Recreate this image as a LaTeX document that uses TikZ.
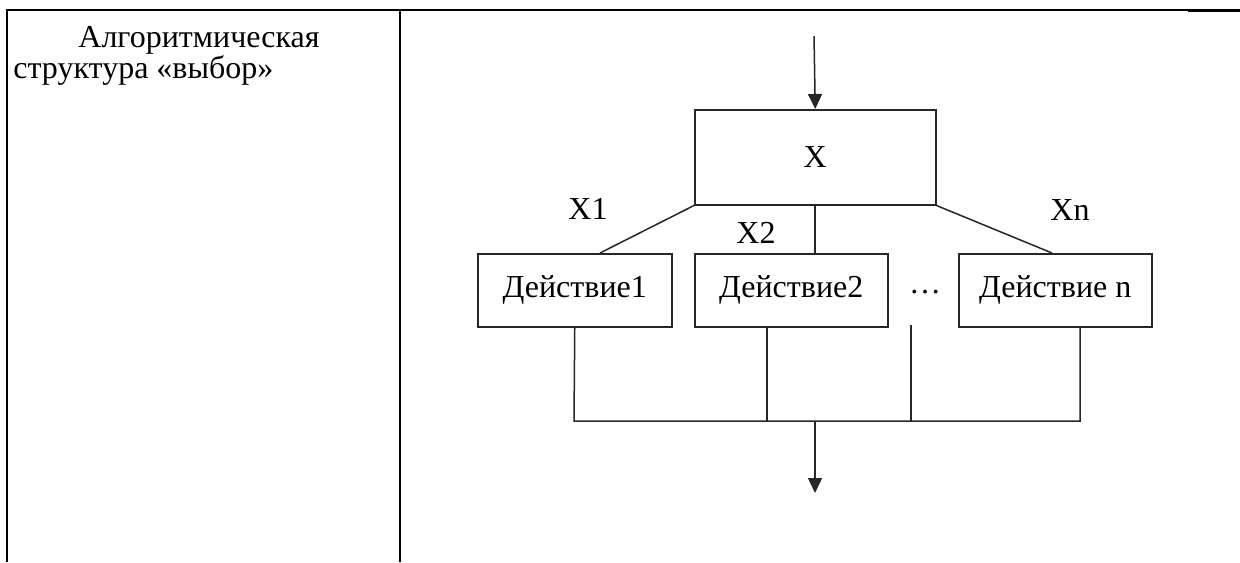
\documentclass[tikz,border=0pt]{standalone}
\usepackage{fontspec}
\setmainfont{Liberation Serif}
\usetikzlibrary{arrows.meta}
\begin{document}
\begin{tikzpicture}[x=0.5pt,y=-0.5pt,
  tablerule/.style={line width=1pt},
  flowline/.style={line width=0.75pt, draw=black!85},
  flowbox/.style={flowline, draw, minimum width=#1, minimum height=36.5pt, inner sep=0pt, anchor=north west},
  lbl/.style={font=\fontsize{16}{19}\selectfont, inner sep=0pt},
  flowarrow/.style={flowline, -{Triangle[length=7.5pt,width=7pt]}}]
\useasboundingbox (0,0) rectangle (1240,562);
% table
\draw[tablerule] (7,562) -- (7,10) -- (1188,10);
\draw[line width=1.3pt] (1188,10.5) -- (1240,10.5);
\draw[tablerule] (400,10) -- (400,562);
\node[lbl, anchor=base west] (t1) at (78,47) {Алгоритмическая};
\node[lbl, anchor=base west] (t2) at (13,78) {структура «выбор»};
% boxes
\node[flowbox=120.5pt, minimum height=47.5pt] (x) at (694,109) {};
\node[lbl] (xl) at (x.center) {X};
\node[flowbox=97pt] (d1) at (477,253) {};
\node[flowbox=96.5pt] (d2) at (694,253) {};
\node[flowbox=96.5pt] (dn) at (958,253) {};
\node[lbl] (d1l) at (d1.center) {Действие1};
\node[lbl] (d2l) at (d2.center) {Действие2};
\node[lbl] (dnl) at (dn.center) {Действие n};
\node[lbl] (dots) at (925,292) {\dots};
% labels
\node[lbl] (x1l) at (588,209) {X1};
\node[lbl] (x2l) at (756,233) {X2};
\node[lbl] (xnl) at (1070,210) {Xn};
% coordinates
\coordinate (in) at (814,36);
\coordinate (c1) at (600,253);
\coordinate (c2) at (815,253);
\coordinate (cn) at (1052,253);
\coordinate (m2) at (815,204);
\coordinate (b1) at (574,421);
\coordinate (b2s) at (767,326);
\coordinate (b2) at (767,421);
\coordinate (b3s) at (911,325);
\coordinate (b3) at (911,421);
\coordinate (bns) at (1080,326);
\coordinate (bn) at (1080,421);
\coordinate (bm) at (815,421);
\coordinate (out) at (815,493);
% connectors
\draw[flowarrow] (in) -- (x.north);
\draw[flowline] (x.south west) -- (c1);
\draw[flowline] (m2) -- (c2);
\draw[flowline] (x.south east) -- (cn);
\draw[flowline] (d1.south) -- (b1) -- (bn) -- (bns);
\draw[flowline] (b2s) -- (b2);
\draw[flowline] (b3s) -- (b3);
\draw[flowarrow] (bm) -- (out);
\end{tikzpicture}
\end{document}
